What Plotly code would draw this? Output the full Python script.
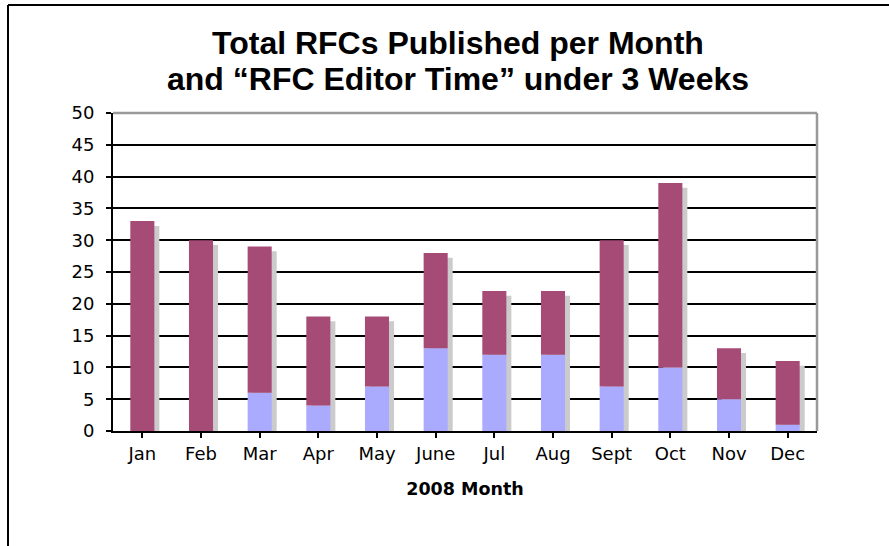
import plotly.graph_objects as go

months = ["Jan", "Feb", "Mar", "Apr", "May", "June", "Jul", "Aug", "Sept", "Oct", "Nov", "Dec"]
total_rfcs = [33, 30, 29, 18, 18, 28, 22, 22, 30, 39, 13, 11]
under_3_weeks = [0, 0, 6, 4, 7, 13, 12, 12, 7, 10, 5, 1]
y_ticks = [0, 5, 10, 15, 20, 25, 30, 35, 40, 45, 50]

over = [t - u for t, u in zip(total_rfcs, under_3_weeks)]
xs = list(range(len(months)))

BAR_W = 0.41
SH_DX = 0.085
SH_DY = 0.75

fig = go.Figure()
# shadow
fig.add_trace(go.Bar(
    x=xs, y=[t - SH_DY for t in total_rfcs], base=0,
    width=BAR_W, offset=-BAR_W / 2 + SH_DX,
    marker=dict(color="#CBCBCB", line=dict(width=0)),
    showlegend=False, hoverinfo="skip"))
fig.add_trace(go.Bar(
    x=xs, y=under_3_weeks, base=0,
    width=BAR_W, offset=-BAR_W / 2,
    marker=dict(color="#AAAAFF", line=dict(width=0)),
    name="RFC Editor Time under 3 weeks", showlegend=False))
fig.add_trace(go.Bar(
    x=xs, y=over, base=under_3_weeks,
    width=BAR_W, offset=-BAR_W / 2,
    marker=dict(color="#A64A76", line=dict(width=0)),
    name="Total", showlegend=False))

L, R, T, B = 113, 72, 113, 115
W, H = 889, 546
PW, PH = W - L - R, H - T - B

fig.update_layout(
    width=W, height=H,
    margin=dict(l=L, r=R, t=T, b=B, pad=0),
    paper_bgcolor="white", plot_bgcolor="white",
    barmode="overlay",
    font=dict(family="DejaVu Sans", size=18, color="black"),
    xaxis=dict(
        range=[-0.5, 11.5],
        tickmode="array", tickvals=xs, ticktext=months,
        showgrid=False, zeroline=False,
        showline=True, linecolor="black", linewidth=2,
        ticks="outside", tickson="boundaries", ticklen=5, tickwidth=2, tickcolor="black",
        tickfont=dict(family="DejaVu Sans", size=18),
        title=dict(text="<b>2008 Month</b>", font=dict(family="DejaVu Sans", size=17.5), standoff=20),
    ),
    yaxis=dict(
        range=[0, 50],
        tickmode="array", tickvals=y_ticks,
        showgrid=True, gridcolor="black", gridwidth=1.6,
        zeroline=False,
        showline=True, linecolor="black", linewidth=2,
        ticks="outside", ticklen=5, tickwidth=2, tickcolor="black",
        ticklabelstandoff=8,
        tickfont=dict(family="DejaVu Sans", size=18),
    ),
    shapes=[
        # gray top and right edges of plot area
        dict(type="line", xref="paper", yref="paper", x0=0, x1=1, y0=1, y1=1,
             line=dict(color="#999999", width=2.5), layer="above"),
        dict(type="line", xref="paper", yref="paper", x0=1, x1=1, y0=0, y1=1,
             line=dict(color="#999999", width=2.5), layer="above"),
        # outer frame
        dict(type="line", xref="paper", yref="paper",
             x0=(8 - L) / PW, x1=(8 - L) / PW,
             y0=(H - B - 5) / PH, y1=-(B + 5) / PH,
             line=dict(color="black", width=2)),
        dict(type="line", xref="paper", yref="paper",
             x0=(8 - L) / PW, x1=(W + 5 - L) / PW,
             y0=(H - B - 5) / PH, y1=(H - B - 5) / PH,
             line=dict(color="black", width=2)),
    ],
    annotations=[
        dict(text="<b>Total RFCs Published per Month</b>", xref="paper", yref="paper",
             x=(458 - L) / PW, y=(H - B - 43) / PH,
             xanchor="center", yanchor="middle", showarrow=False,
             font=dict(family="Liberation Sans", size=32, color="black")),
        dict(text="<b>and \u201cRFC Editor Time\u201d under 3 Weeks</b>", xref="paper", yref="paper",
             x=(458 - L) / PW, y=(H - B - 79) / PH,
             xanchor="center", yanchor="middle", showarrow=False,
             font=dict(family="Liberation Sans", size=32, color="black")),
    ],
)

fig.write_html("out.html", config={"displayModeBar": False},
               post_script="document.body.style.margin='0';document.body.style.overflow='hidden';")
